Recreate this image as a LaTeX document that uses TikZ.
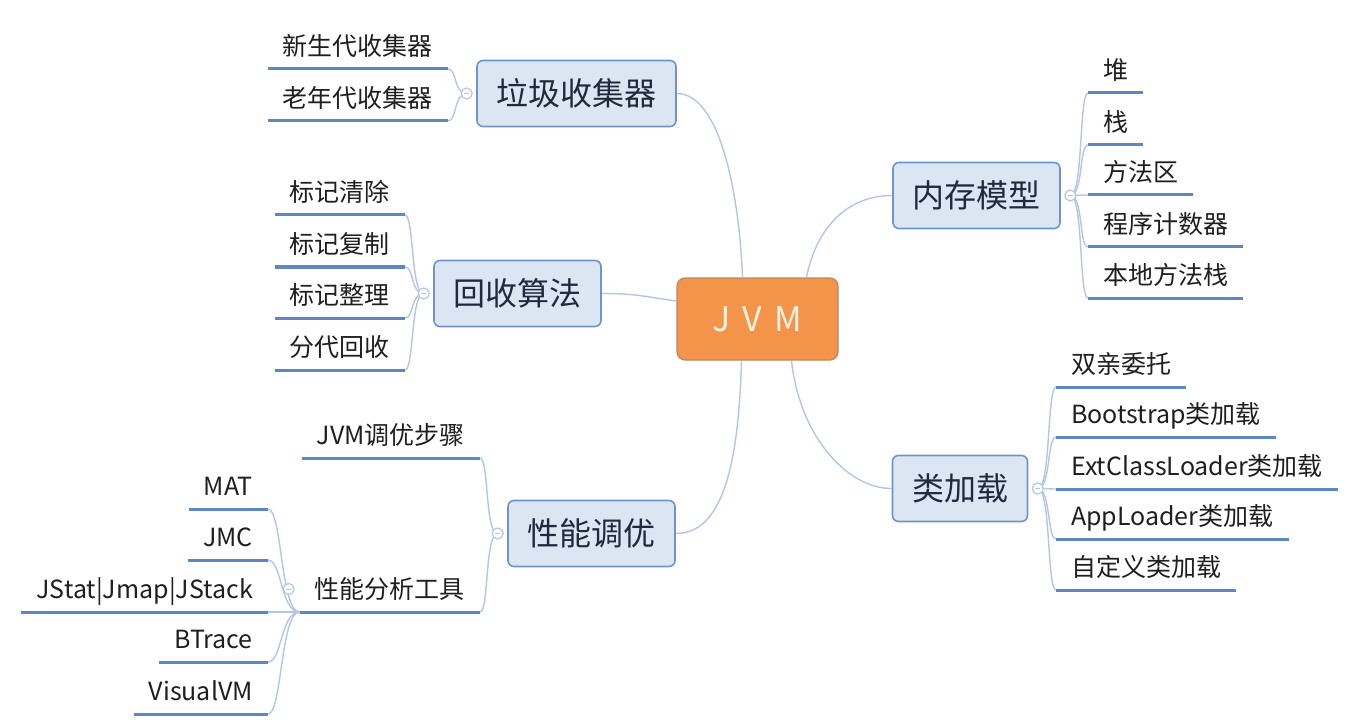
\documentclass[tikz,border=0pt]{standalone}
\usepackage{fontspec}
\newfontfamily\cjk{Noto Sans CJK SC}
\usetikzlibrary{calc,backgrounds}
\definecolor{boxfill}{HTML}{DCE6F2}
\definecolor{boxline}{HTML}{6F93CB}
\definecolor{ulinec}{HTML}{5B87C4}
\definecolor{connc}{HTML}{B3C6E6}
\definecolor{jvmfill}{HTML}{F4944A}
\definecolor{jvmline}{HTML}{B98A6A}
\definecolor{jvmtext}{HTML}{FFF2E2}
\definecolor{leaftext}{HTML}{1F1F1F}
\definecolor{boxtext}{HTML}{1E2B3C}
\tikzset{
 topicbox/.style={draw=boxline, line width=1.6pt, fill=boxfill, rounded corners=6pt, inner xsep=19.5pt, inner ysep=0pt, minimum height=66pt, font=\cjk\fontsize{32}{38}\selectfont, text=boxtext},
 rootbox/.style={draw=jvmline, line width=1.2pt, fill=jvmfill, rounded corners=8pt, minimum width=161pt, minimum height=82pt, inner sep=0pt, font=\cjk\fontsize{34}{40}\selectfont, text=jvmtext},
 leafL/.style={inner xsep=15pt, inner ysep=0pt, text height=20pt, text depth=13pt, font=\cjk\fontsize{25}{30}\selectfont, text=leaftext, anchor=south east},
 leafR/.style={leafL, anchor=south west},
 uln/.style={draw=ulinec, line width=3pt},
 conn/.style={draw=connc, line width=1.4pt},
 fold/.style={circle, draw=connc, line width=1.2pt, fill=white, minimum size=11pt, inner sep=0pt,
   path picture={\draw[connc, line width=1pt] ([xshift=-2.6pt]path picture bounding box.center) -- ([xshift=2.6pt]path picture bounding box.center);}}
}
\begin{document}
\begin{tikzpicture}[x=1pt,y=-1pt]
\useasboundingbox (0,0) rectangle (1367,727);
% root and main topics
\node[rootbox] (jvm) at (757.5,319) {J\hspace{12pt}V\hspace{12pt}M};
\node[topicbox] (gc) at (576.5,93.5) {垃圾收集器};
\node[topicbox] (algo) at (517.5,293.5) {回收算法};
\node[topicbox] (perf) at (591.5,533.5) {性能调优};
\node[topicbox] (mem) at (976.5,195.5) {内存模型};
\node[topicbox] (cls) at (960,488.5) {类加载};
% fold markers
\node[fold] (gcf) at ($(gc.west)+(-9.5,0)$) {};
\node[fold] (algof) at ($(algo.west)+(-9.5,0)$) {};
\node[fold] (perff) at ($(perf.west)+(-9.5,0)$) {};
\node[fold] (memf) at ($(mem.east)+(9.5,0)$) {};
\node[fold] (clsf) at ($(cls.east)+(9.5,0)$) {};
% garbage collector leaves
\node[leafL] (g1) at (448,69) {新生代收集器};
\node[leafL] (g2) at (448,121) {老年代收集器};
% algorithm leaves
\node[leafL] (a1) at (405,215) {标记清除};
\node[leafL] (a2) at (405,267) {标记复制};
\node[leafL] (a3) at (405,318) {标记整理};
\node[leafL] (a4) at (405,370) {分代回收};
% performance leaves
\node[leafL] (p1) at (480,458) {JVM调优步骤};
\node[leafL] (tools) at (480,612) {性能分析工具};
\node[fold] (toolsf) at ($(tools.south west)+(-11,-23)$) {};
\node[leafL] (t1) at (268,509) {MAT};
\node[leafL] (t2) at (268,560) {JMC};
\node[leafL] (t3) at (268,612) {JStat|Jmap|JStack};
\node[leafL] (t4) at (268,662) {BTrace};
\node[leafL] (t5) at (268,714) {VisualVM};
% memory leaves
\node[leafR] (m1) at (1088,93) {堆};
\node[leafR] (m2) at (1088,145) {栈};
\node[leafR] (m3) at (1088,195) {方法区};
\node[leafR] (m4) at (1088,247) {程序计数器};
\node[leafR] (m5) at (1088,298) {本地方法栈};
% class loading leaves
\node[leafR] (c1) at (1056,387) {双亲委托};
\node[leafR] (c2) at (1056,437) {Bootstrap类加载};
\node[leafR] (c3) at (1056,489) {ExtClassLoader类加载};
\node[leafR] (c4) at (1056,539) {AppLoader类加载};
\node[leafR] (c5) at (1056,590) {自定义类加载};
% underlines
\foreach \n in {g1,g2,a1,a2,a3,a4,p1,tools,t1,t2,t3,t4,t5,m1,m2,m3,m4,m5,c1,c2,c3,c4,c5}
  \draw[uln] (\n.south west) -- (\n.south east);
\begin{scope}[on background layer]
\fill[white] (0,0) rectangle (1367,727);
% main connectors
\draw[conn] (gc.east) .. controls +(44,0) and +(-3,-80) .. ($(jvm.north)+(-15,0)$);
\draw[conn] (algo.east) .. controls +(35,0) and +(-30,-4) .. ($(jvm.west)+(0,-18)$);
\draw[conn] ($(jvm.south)+(-16,0)$) .. controls +(-3,110) and +(45,0) .. (perf.east);
\draw[conn] ($(jvm.south)+(34,0)$) .. controls +(8,75) and +(-45,0) .. (cls.west);
\draw[conn] ($(jvm.north)+(49,0)$) .. controls +(10,-50) and +(-45,0) .. (mem.west);
% leaf connectors
\foreach \n in {g1,g2}
  \draw[conn] (gcf.center) .. controls +(-13,0) and +(9,0) .. (\n.south east);
\foreach \n in {a1,a2,a3,a4}
  \draw[conn] (algof.center) .. controls +(-13,0) and +(9,0) .. (\n.south east);
\foreach \n in {p1,tools}
  \draw[conn] (perff.center) .. controls +(-13,0) and +(9,0) .. (\n.south east);
\foreach \n in {t1,t2,t3,t4,t5}
  \draw[conn] (tools.south west) .. controls +(-19,0) and +(14,0) .. (\n.south east);
\foreach \n in {m1,m2,m3,m4,m5}
  \draw[conn] (memf.center) .. controls +(13,0) and +(-9,0) .. (\n.south west);
\foreach \n in {c1,c2,c3,c4,c5}
  \draw[conn] (clsf.center) .. controls +(13,0) and +(-9,0) .. (\n.south west);
\end{scope}
\end{tikzpicture}
\end{document}
